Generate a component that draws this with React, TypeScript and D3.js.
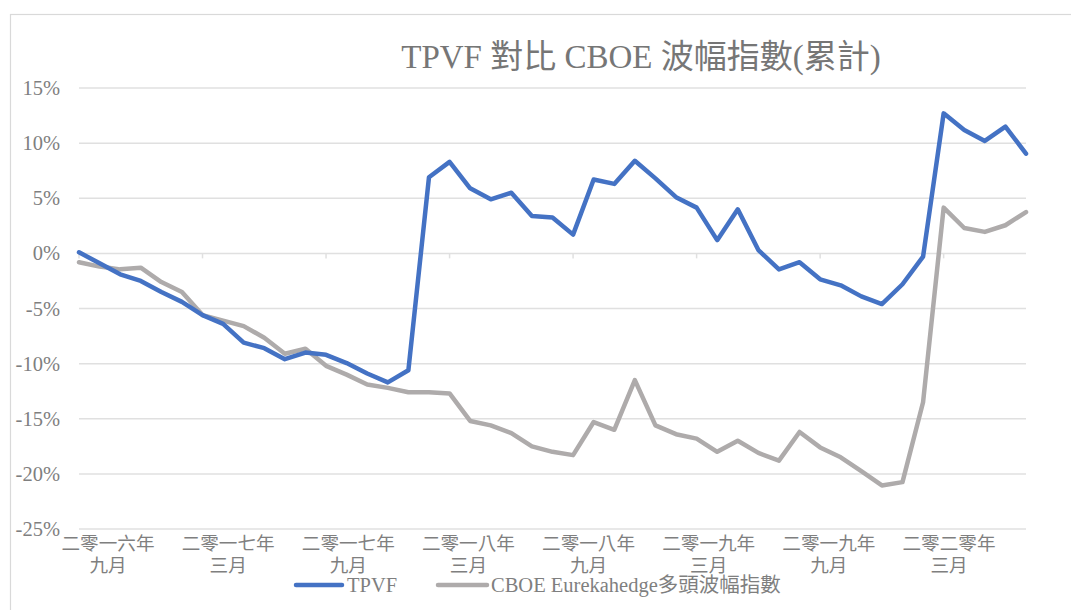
import React from 'react';
import * as d3 from 'd3';

// Monthly categories: Sep 2016 .. Jul 2020 (47 months)
const months: Date[] = d3.timeMonth.range(new Date(2016, 8, 1), new Date(2020, 7, 1));

const tpvf: number[] = [
  0.1, -0.9, -1.9, -2.5, -3.5, -4.4, -5.6, -6.4, -8.1, -8.6,
  -9.6, -9.0, -9.2, -9.95, -10.9, -11.7, -10.6, 6.9, 8.3, 5.9,
  4.9, 5.5, 3.4, 3.25, 1.7, 6.7, 6.3, 8.4, 6.8, 5.1,
  4.15, 1.2, 4.0, 0.3, -1.45, -0.8, -2.35, -2.9, -3.9, -4.6,
  -2.8, -0.3, 12.7, 11.2, 10.2, 11.5, 9.05,
];

const cboe: number[] = [
  -0.8, -1.2, -1.45, -1.3, -2.6, -3.5, -5.6, -6.1, -6.6, -7.65,
  -9.1, -8.65, -10.2, -11.0, -11.9, -12.2, -12.6, -12.6, -12.7, -15.2,
  -15.6, -16.3, -17.5, -18.0, -18.3, -15.3, -16.0, -11.5, -15.6, -16.4,
  -16.8, -18.0, -17.0, -18.1, -18.8, -16.2, -17.6, -18.5, -19.75, -21.05,
  -20.75, -13.5, 4.15, 2.3, 1.95, 2.55, 3.75,
];

const yTicks: number[] = [15, 10, 5, 0, -5, -10, -15, -20, -25];
const xLabelYears: string[] = ['二零一六年', '二零一七年', '二零一七年', '二零一八年', '二零一八年', '二零一九年', '二零一九年', '二零二零年'];
const xLabelMonths: string[] = ['九月', '三月', '九月', '三月', '九月', '三月', '九月', '三月'];
const tickEvery = 6;

const title = 'TPVF 對比 CBOE 波幅指數(累計)';
const seriesNames: string[] = ['TPVF', 'CBOE Eurekahedge多頭波幅指數'];

const BLUE = '#4472C4';
const GRAY = '#AEABAB';
const TEXT = '#7f7f7f';
const GRID = '#e0e0e0';
const FONT = "'Liberation Serif', 'Times New Roman', 'Noto Sans CJK TC', serif";

const W = 1071;
const H = 610;
const plotLeft = 79;
const plotRight = 1026;
const plotTop = 88;
const plotBottom = 529;

export default function App() {
  const x = d3.scaleLinear().domain([0, months.length - 1]).range([plotLeft, plotRight]);
  const y = d3.scaleLinear().domain([-25, 15]).range([plotBottom, plotTop]);
  const labelX = d3.scalePoint<number>().domain(d3.range(xLabelYears.length)).range([108, 949]);

  const line = d3.line<number>().x((_, i) => x(i)).y((d) => y(d));

  const tickIdx = d3.range(0, months.length, tickEvery);

  return (
    <svg width={W} height={H} style={{ position: 'absolute', left: 0, top: 0, background: '#fff' }} fontFamily={FONT}>
      <rect x={0} y={0} width={W} height={H} fill="#fff" />
      <rect x={10.5} y={14.5} width={1200} height={800} fill="none" stroke="#d9d9d9" strokeWidth={1.2} />

      <text x={641} y={68} textAnchor="middle" fontSize={33} fill="#767676">{title}</text>

      {yTicks.map((t) => (
        <g key={t}>
          <line x1={plotLeft} x2={plotRight} y1={y(t)} y2={y(t)} stroke={GRID} strokeWidth={1.5} />
          <text x={60} y={y(t) + 7} textAnchor="end" fontSize={20.5} fill={TEXT}>{`${t}%`}</text>
        </g>
      ))}

      {tickIdx.map((i) => (
        <line key={i} x1={x(i)} x2={x(i)} y1={y(0)} y2={y(0) + 5} stroke={GRID} strokeWidth={1.5} />
      ))}

      {xLabelYears.map((yr, k) => (
        <g key={k}>
          <text x={labelX(k)} y={550} textAnchor="middle" fontSize={18.6} fill={TEXT}>{yr}</text>
          <text x={labelX(k)} y={572} textAnchor="middle" fontSize={18.6} fill={TEXT}>{xLabelMonths[k]}</text>
        </g>
      ))}

      <path d={line(cboe) || ''} fill="none" stroke={GRAY} strokeWidth={4.5} strokeLinejoin="round" strokeLinecap="round" />
      <path d={line(tpvf) || ''} fill="none" stroke={BLUE} strokeWidth={4.5} strokeLinejoin="round" strokeLinecap="round" />

      <g>
        <line x1={296} x2={342} y1={585} y2={585} stroke={BLUE} strokeWidth={4.5} strokeLinecap="round" />
        <text x={347} y={592} fontSize={20.5} fill={TEXT}>{seriesNames[0]}</text>
        <line x1={438} x2={487} y1={585} y2={585} stroke={GRAY} strokeWidth={4.5} strokeLinecap="round" />
        <text x={491} y={592} fontSize={20.5} fill={TEXT}>{seriesNames[1]}</text>
      </g>
    </svg>
  );
}
